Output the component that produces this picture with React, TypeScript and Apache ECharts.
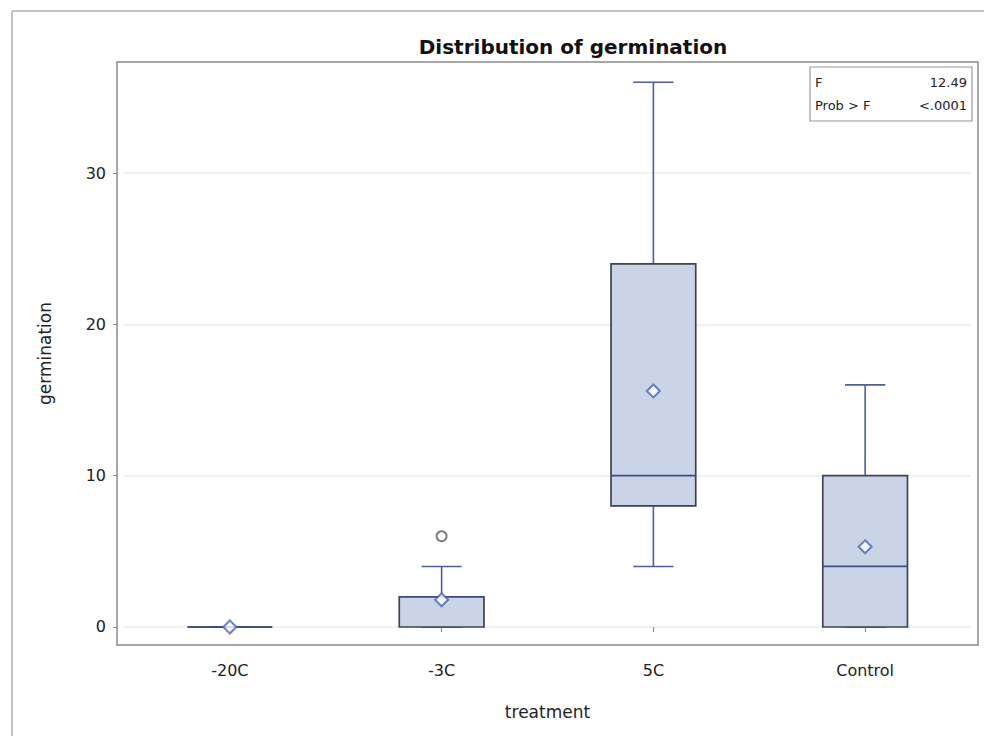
import React, { useEffect, useRef } from "react";
import * as echarts from "echarts";

// Germination counts by storage treatment
const categories = ["-20C", "-3C", "5C", "Control"];
const whiskerLow = [0, 0, 4, 0];
const quartile1 = [0, 0, 8, 0];
const medians = [0, 2, 10, 4];
const quartile3 = [0, 2, 24, 10];
const whiskerHigh = [0, 4, 36, 16];
const means = [0, 1.8, 15.6, 5.3];
const outliers: [string, number][] = [["-3C", 6]];
const yTicks = [0, 10, 20, 30];
const fStat = "12.49";
const pValue = "<.0001";

const FONT = "'DejaVu Sans', Verdana, sans-serif";
const BOX_FILL = "#c9d4e7";
const BOX_EDGE = "#3d4354";
const WHISKER = "#4a5f9e";
const MEAN_EDGE = "#4a64b4";

export default function App() {
  const ref = useRef<HTMLDivElement>(null);

  useEffect(() => {
    if (!ref.current) return;
    const chart = echarts.init(ref.current, null, { renderer: "svg" });

    const boxData = categories.map((_, i) => [
      i,
      whiskerLow[i],
      quartile1[i],
      medians[i],
      quartile3[i],
      whiskerHigh[i],
    ]);

    const renderBox = (params: any, api: any) => {
      const i = api.value(0);
      const lo = api.coord([i, api.value(1)]);
      const q1 = api.coord([i, api.value(2)]);
      const md = api.coord([i, api.value(3)]);
      const q3 = api.coord([i, api.value(4)]);
      const hi = api.coord([i, api.value(5)]);
      const band = api.size([1, 0])[0];
      const bw = band * 0.4;
      const cw = band * 0.19;
      const x = lo[0];
      const whiskerStyle = { stroke: WHISKER, lineWidth: 1.6, fill: null };
      return {
        type: "group",
        children: [
          {
            type: "line",
            shape: { x1: x, y1: q3[1], x2: x, y2: hi[1] },
            style: whiskerStyle,
          },
          {
            type: "line",
            shape: { x1: x, y1: q1[1], x2: x, y2: lo[1] },
            style: whiskerStyle,
          },
          {
            type: "line",
            shape: { x1: x - cw / 2, y1: hi[1], x2: x + cw / 2, y2: hi[1] },
            style: whiskerStyle,
          },
          {
            type: "line",
            shape: { x1: x - cw / 2, y1: lo[1], x2: x + cw / 2, y2: lo[1] },
            style: whiskerStyle,
          },
          {
            type: "rect",
            shape: { x: x - bw / 2, y: q3[1], width: bw, height: q1[1] - q3[1] },
            style: { fill: BOX_FILL, stroke: BOX_EDGE, lineWidth: 1.7 },
          },
          {
            type: "line",
            shape: { x1: x - bw / 2, y1: md[1], x2: x + bw / 2, y2: md[1] },
            style: { stroke: "#3b4c86", lineWidth: 1.7 },
          },
        ],
      };
    };

    chart.setOption({
      animation: false,
      backgroundColor: "#ffffff",
      textStyle: { fontFamily: FONT },
      grid: { left: 124, right: 13, top: 62, bottom: 91 },
      xAxis: {
        type: "category",
        data: categories,
        boundaryGap: true,
        name: "treatment",
        nameLocation: "middle",
        nameGap: 58,
        nameTextStyle: { fontSize: 17, color: "#222", fontFamily: FONT },
        axisLine: { show: false },
        axisTick: {
          show: true,
          alignWithLabel: true,
          length: 5,
          lineStyle: { color: "#888" },
        },
        axisLabel: { fontSize: 16, color: "#222", margin: 17, fontFamily: FONT },
        splitLine: { show: false },
      },
      yAxis: {
        type: "value",
        min: -1.19,
        max: 37.34,
        offset: 7,
        name: "germination",
        nameLocation: "middle",
        nameGap: 64,
        nameRotate: 90,
        nameTextStyle: { fontSize: 17, color: "#222", fontFamily: FONT },
        axisLine: { show: false },
        axisTick: {
          show: true,
          length: 4,
          customValues: yTicks,
          lineStyle: { color: "#888" },
        },
        axisLabel: {
          fontSize: 16,
          color: "#222",
          margin: 11,
          customValues: yTicks,
          fontFamily: FONT,
        },
        splitLine: { show: true, lineStyle: { color: "#ececec", width: 1.5 } },
      },
      title: {
        text: "Distribution of germination",
        left: 568,
        top: 32,
        textAlign: "center",
        textStyle: { fontSize: 20, fontWeight: "bold", color: "#111", fontFamily: FONT },
      },
      series: [
        {
          type: "custom",
          renderItem: renderBox,
          data: boxData,
          encode: { x: 0, y: [1, 2, 3, 4, 5] },
          z: 2,
        },
        {
          type: "scatter",
          data: categories.map((c, i) => [c, means[i]]),
          symbol: "diamond",
          symbolSize: 13,
          itemStyle: { color: "#ffffff", borderColor: MEAN_EDGE, borderWidth: 2 },
          z: 5,
        },
        {
          type: "scatter",
          data: outliers,
          symbol: "circle",
          symbolSize: 10,
          itemStyle: { color: "#ffffff", borderColor: "#555555", borderWidth: 1.8 },
          z: 5,
        },
      ],
      graphic: [
        // outer page frame
        {
          type: "line",
          shape: { x1: 12, y1: 11, x2: 12, y2: 736 },
          style: { stroke: "#c4c4c4", lineWidth: 2 },
        },
        {
          type: "line",
          shape: { x1: 12, y1: 11, x2: 984, y2: 11 },
          style: { stroke: "#c4c4c4", lineWidth: 2 },
        },
        // plot frame
        {
          type: "rect",
          shape: { x: 117, y: 62, width: 861, height: 583 },
          style: { fill: null, stroke: "#8a8a8a", lineWidth: 1.5 },
          z: 10,
        },
        // ANOVA inset
        {
          type: "group",
          z: 20,
          children: [
            {
              type: "rect",
              shape: { x: 810, y: 67, width: 162, height: 54 },
              style: { fill: "#ffffff", stroke: "#9a9a9a", lineWidth: 1.2 },
            },
            {
              type: "text",
              x: 815,
              y: 82,
              style: {
                text: "F",
                font: `13px ${FONT}`,
                fill: "#222",
                textVerticalAlign: "middle",
              },
            },
            {
              type: "text",
              x: 967,
              y: 82,
              style: {
                text: fStat,
                font: `13px ${FONT}`,
                fill: "#222",
                textAlign: "right",
                textVerticalAlign: "middle",
              },
            },
            {
              type: "text",
              x: 815,
              y: 105,
              style: {
                text: "Prob > F",
                font: `13px ${FONT}`,
                fill: "#222",
                textVerticalAlign: "middle",
              },
            },
            {
              type: "text",
              x: 967,
              y: 105,
              style: {
                text: pValue,
                font: `13px ${FONT}`,
                fill: "#222",
                textAlign: "right",
                textVerticalAlign: "middle",
              },
            },
          ],
        },
      ],
    });

    return () => chart.dispose();
  }, []);

  return (
    <div
      ref={ref}
      style={{ position: "fixed", left: 0, top: 0, width: 984, height: 736 }}
    />
  );
}
